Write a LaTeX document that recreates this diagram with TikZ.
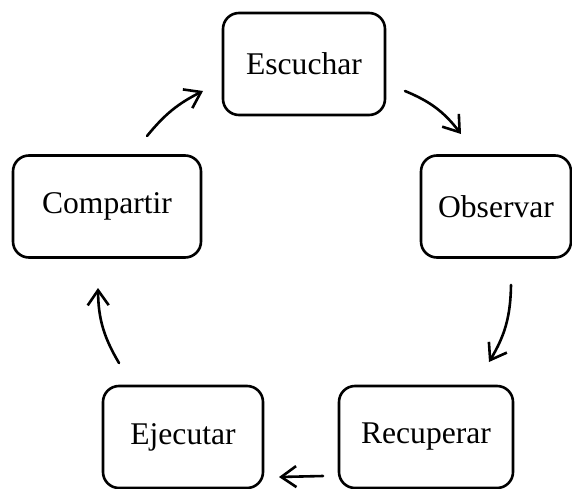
\documentclass[tikz,border=0pt]{standalone}
\usepackage{fontspec}
\setmainfont{Liberation Serif}
\usetikzlibrary{arrows.meta}
\begin{document}
\begin{tikzpicture}[x=1pt,y=1pt,
  stepbox/.style={draw=black, line width=2.6pt, rounded corners=16pt, minimum height=102pt, inner sep=0pt,
    font=\fontsize{31.6}{38}\selectfont},
  flow/.style={line width=2.6pt, line cap=round, line join=round, -{Straight Barb[length=15pt,width=21pt,line width=2.6pt]}}]
\useasboundingbox (0,0) rectangle (572,488);
\node[stepbox, minimum width=162pt] (esc) at (304,424) {Escuchar};
\node[stepbox, minimum width=150pt] (obs) at (496,281.5) {Observar};
\node[stepbox, minimum width=174pt] (rec) at (426,51) {Recuperar};
\node[stepbox, minimum width=160pt] (eje) at (183,51) {Ejecutar};
\node[stepbox, minimum width=188pt] (com) at (107,281.5) {Compartir};
\coordinate (a1s) at (147,352); \coordinate (a1e) at (203,397);
\coordinate (a2s) at (405,397); \coordinate (a2e) at (461,354);
\coordinate (a3s) at (511,203); \coordinate (a3e) at (489,126);
\coordinate (a4s) at (323,12);  \coordinate (a4e) at (279,11);
\coordinate (a5s) at (119,125); \coordinate (a5e) at (98,200);
\draw[flow] (a1s) to[bend left=12] (a1e);
\draw[flow] (a2s) to[bend left=15] (a2e);
\draw[flow] (a3s) to[bend left=15] (a3e);
\draw[flow] (a4s) to (a4e);
\draw[flow] (a5s) to[bend left=15] (a5e);
\end{tikzpicture}
\end{document}
